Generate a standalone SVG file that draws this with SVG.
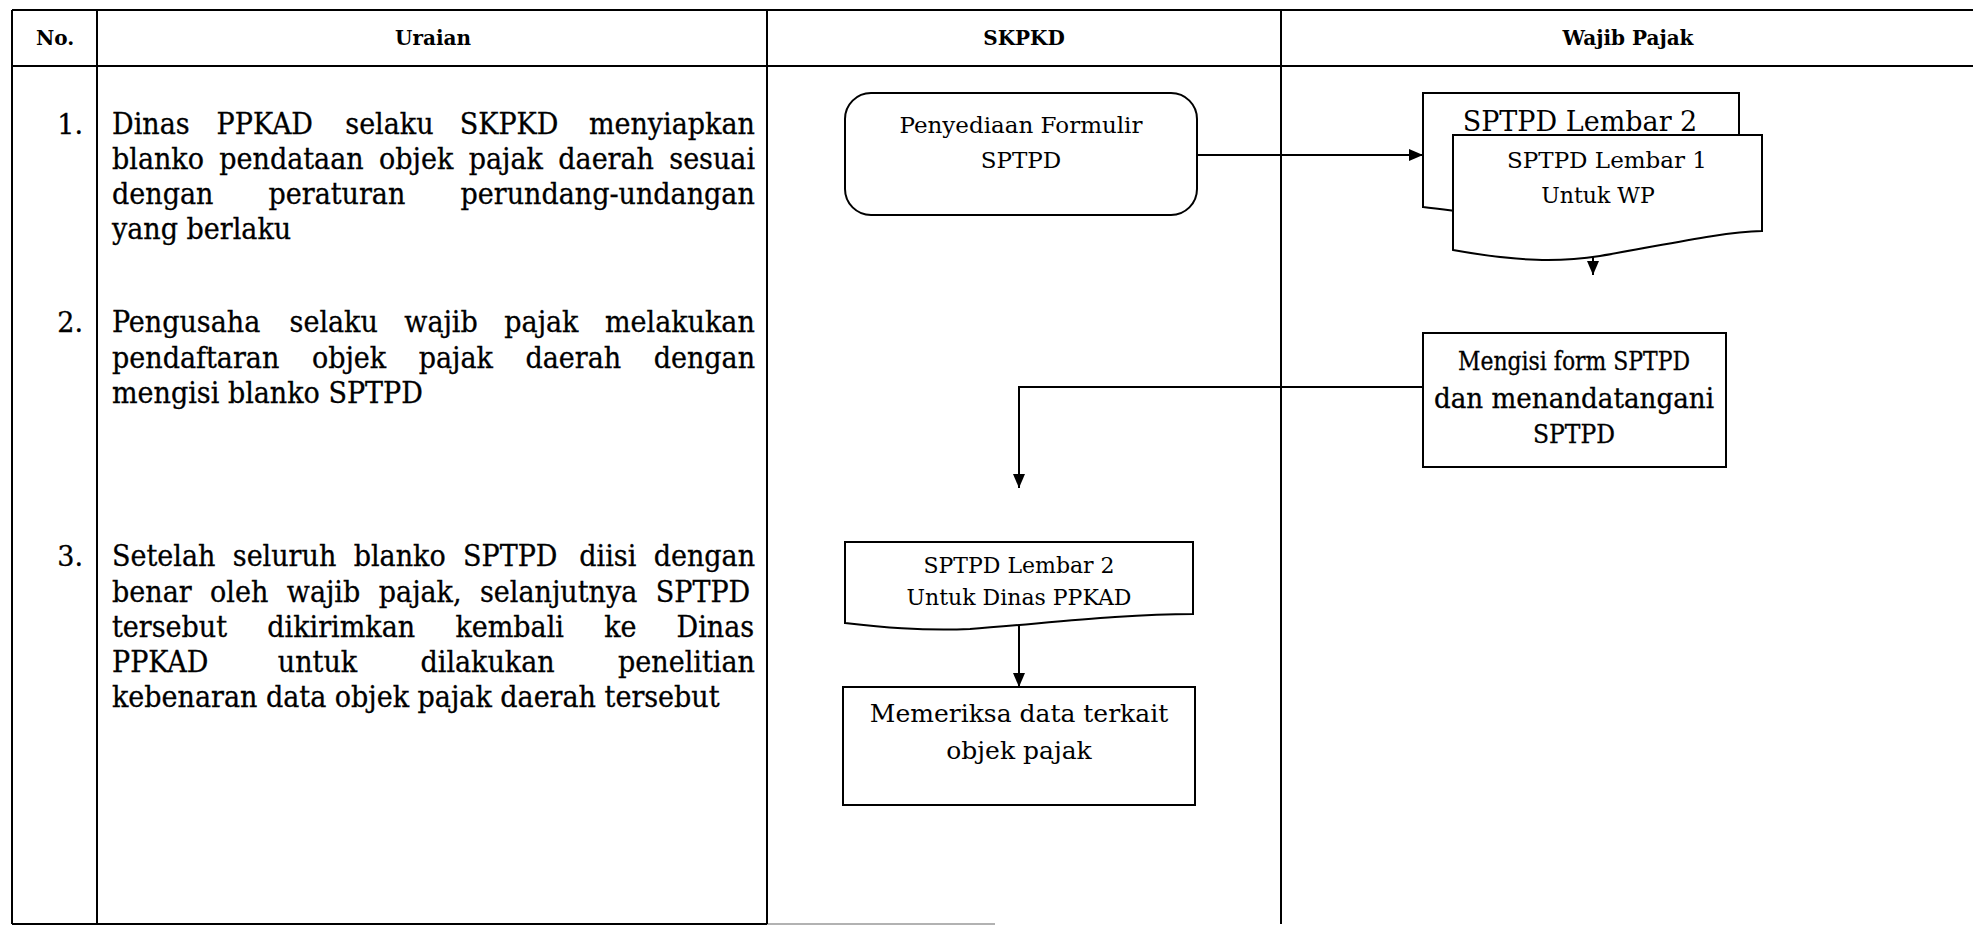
<svg xmlns="http://www.w3.org/2000/svg" width="1973" height="927" viewBox="0 0 1973 927">
  <style>
    .grid { stroke: #000; stroke-width: 2; fill: none; }
    .hdr { font-family: "DejaVu Serif", "Liberation Serif", serif; font-weight: bold; font-size: 20px; text-anchor: middle; fill: #000; }
    .body { font-family: "DejaVu Serif Condensed", "DejaVu Serif", "Liberation Serif", serif; font-stretch: condensed; font-size: 30px; fill: #000; stroke: #000; stroke-width: 0.3; }
    .num { font-family: "DejaVu Serif", "Liberation Serif", serif; font-size: 27px; text-anchor: end; fill: #000; stroke: #000; stroke-width: 0.3; }
    .shape { fill: #fff; stroke: #000; stroke-width: 2; }
    .lbl { font-family: "DejaVu Serif", "Liberation Serif", serif; text-anchor: middle; fill: #000; }
    .lblc { font-family: "DejaVu Serif Condensed", "DejaVu Serif", "Liberation Serif", serif; font-stretch: condensed; text-anchor: middle; fill: #000; stroke: #000; stroke-width: 0.3; }
    .conn { stroke: #000; stroke-width: 2; fill: none; marker-end: url(#arrow); }
  </style>
  <defs>
    <marker id="arrow" markerUnits="userSpaceOnUse" markerWidth="14" markerHeight="12" refX="14" refY="6" orient="auto">
      <path d="M0,0 L14,6 L0,12 Z" fill="#000"/>
    </marker>
  </defs>

  <rect width="1973" height="927" fill="#fff"/>

  <!-- table frame -->
  <g id="table" class="grid">
    <line x1="12" y1="10" x2="1973" y2="10"/>
    <line x1="12" y1="66" x2="1973" y2="66"/>
    <line x1="12" y1="924" x2="767" y2="924"/>
    <line x1="767" y1="924" x2="995" y2="924" stroke="#999" stroke-width="1.5"/>
    <line x1="12" y1="10" x2="12" y2="924"/>
    <line x1="97" y1="10" x2="97" y2="924"/>
    <line x1="767" y1="10" x2="767" y2="924"/>
    <line x1="1281" y1="10" x2="1281" y2="924"/>
  </g>

  <!-- column headings -->
  <g id="headings">
    <text class="hdr" x="55" y="45">No.</text>
    <text class="hdr" x="433" y="45">Uraian</text>
    <text class="hdr" x="1024" y="45">SKPKD</text>
    <text class="hdr" x="1628" y="45">Wajib Pajak</text>
  </g>

  <!-- step descriptions (justified lines are set word by word) -->
  <g id="step1">
    <text class="num" x="83" y="134">1.</text>
    <text class="body" y="134"><tspan x="112">Dinas</tspan><tspan x="216.6">PPKAD</tspan><tspan x="345.3">selaku</tspan><tspan x="459.8">SKPKD</tspan><tspan x="588.9">menyiapkan</tspan></text>
    <text class="body" y="169"><tspan x="112">blanko</tspan><tspan x="219.3">pendataan</tspan><tspan x="379.1">objek</tspan><tspan x="468.7">pajak</tspan><tspan x="558.3">daerah</tspan><tspan x="669.3">sesuai</tspan></text>
    <text class="body" y="204"><tspan x="112">dengan</tspan><tspan x="268.5">peraturan</tspan><tspan x="460.5">perundang-undangan</tspan></text>
    <text class="body" x="112" y="239">yang berlaku</text>
  </g>
  <g id="step2">
    <text class="num" x="83" y="332">2.</text>
    <text class="body" y="332"><tspan x="112">Pengusaha</tspan><tspan x="289.6">selaku</tspan><tspan x="404.3">wajib</tspan><tspan x="504.3">pajak</tspan><tspan x="605">melakukan</tspan></text>
    <text class="body" y="368"><tspan x="112">pendaftaran</tspan><tspan x="311.9">objek</tspan><tspan x="418.7">pajak</tspan><tspan x="525.5">daerah</tspan><tspan x="653.7">dengan</tspan></text>
    <text class="body" x="112" y="403">mengisi blanko SPTPD</text>
  </g>
  <g id="step3">
    <text class="num" x="83" y="566">3.</text>
    <text class="body" y="566"><tspan x="112">Setelah</tspan><tspan x="232.8">seluruh</tspan><tspan x="353.7">blanko</tspan><tspan x="463">SPTPD</tspan><tspan x="579.3">diisi</tspan><tspan x="653.7">dengan</tspan></text>
    <text class="body" y="602"><tspan x="112">benar</tspan><tspan x="210.1">oleh</tspan><tspan x="286.8">wajib</tspan><tspan x="378.8">pajak,</tspan><tspan x="480">selanjutnya</tspan><tspan x="655.8">SPTPD</tspan></text>
    <text class="body" y="637"><tspan x="112">tersebut</tspan><tspan x="267.3">dikirimkan</tspan><tspan x="455.4">kembali</tspan><tspan x="604.2">ke</tspan><tspan x="676.6">Dinas</tspan></text>
    <text class="body" y="672"><tspan x="112">PPKAD</tspan><tspan x="277.8">untuk</tspan><tspan x="420.5">dilakukan</tspan><tspan x="618.1">penelitian</tspan></text>
    <text class="body" x="112" y="707">kebenaran data objek pajak daerah tersebut</text>
  </g>

  <!-- connectors -->
  <g id="connectors">
    <path class="conn" d="M1197,155 H1423"/>
    <path class="conn" d="M1593,256 V275"/>
    <path class="conn" d="M1423,387 H1019 V488"/>
    <path class="conn" d="M1019,626 V687"/>
  </g>

  <!-- SKPKD lane -->
  <g id="penyediaan">
    <rect class="shape" x="845" y="93" width="352" height="122" rx="26"/>
    <text class="lbl" x="1021" y="133" font-size="23">Penyediaan Formulir</text>
    <text class="lbl" x="1021" y="168" font-size="23">SPTPD</text>
  </g>
  <g id="lembar2-dinas">
    <path class="shape" d="M845,542 H1193 V614 C1120,614 1040,624 970,629 C920,631 880,627 845,623 Z"/>
    <text class="lbl" x="1019" y="573" font-size="22">SPTPD Lembar 2</text>
    <text class="lbl" x="1019" y="605" font-size="22">Untuk Dinas PPKAD</text>
  </g>
  <g id="memeriksa">
    <rect class="shape" x="843" y="687" width="352" height="118"/>
    <text class="lbl" x="1019" y="722" font-size="25">Memeriksa data terkait</text>
    <text class="lbl" x="1019" y="759" font-size="25">objek pajak</text>
  </g>

  <!-- Wajib Pajak lane -->
  <g id="lembar-stack">
    <path class="shape" d="M1423,93 H1739 V190 C1680,192 1620,205 1570,215 C1520,222 1470,212 1423,207 Z"/>
    <text class="lbl" x="1580" y="131" font-size="27">SPTPD Lembar 2</text>
    <path class="shape" d="M1453,135 H1762 V231 C1720,232 1660,246 1600,256 C1560,262 1520,262 1453,250 Z"/>
    <text class="lbl" x="1607" y="168" font-size="23">SPTPD Lembar 1</text>
    <text class="lbl" x="1598" y="203" font-size="22">Untuk WP</text>
  </g>
  <g id="mengisi">
    <rect class="shape" x="1423" y="333" width="303" height="134"/>
    <text class="lblc" x="1574" y="370" font-size="26" textLength="232" lengthAdjust="spacingAndGlyphs">Mengisi form SPTPD</text>
    <text class="lblc" x="1574" y="408" font-size="27" textLength="280" lengthAdjust="spacingAndGlyphs">dan menandatangani</text>
    <text class="lblc" x="1574" y="443" font-size="26">SPTPD</text>
  </g>
</svg>
